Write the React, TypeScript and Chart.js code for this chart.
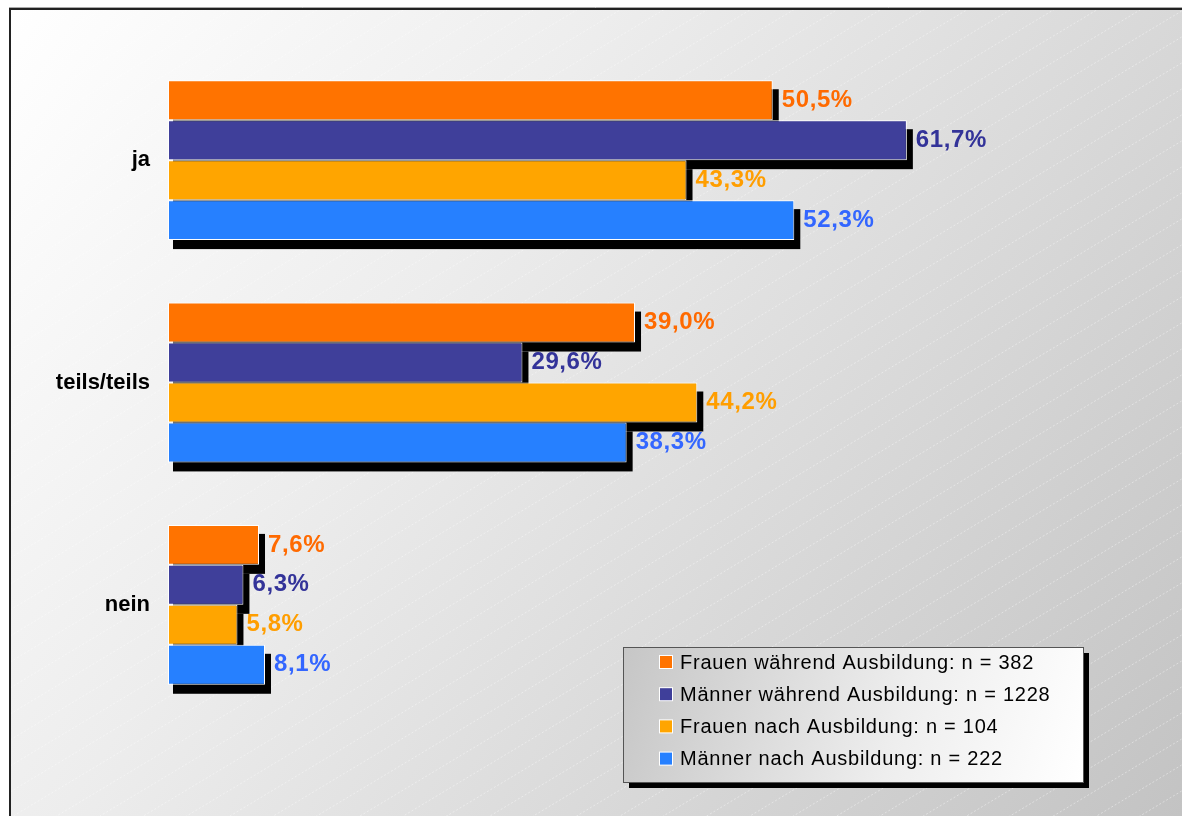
import React, { useEffect, useRef } from "react";
import { Chart, registerables } from "chart.js";

Chart.register(...registerables);

const categories = ["ja", "teils/teils", "nein"];
const seriesLabels = [
  "Frauen während Ausbildung: n = 382",
  "Männer während Ausbildung: n = 1228",
  "Frauen nach Ausbildung: n = 104",
  "Männer nach Ausbildung: n = 222",
];
const frauenWaehrend = [50.5, 39.0, 7.6];
const maennerWaehrend = [61.7, 29.6, 6.3];
const frauenNach = [43.3, 44.2, 5.8];
const maennerNach = [52.3, 38.3, 8.1];

const barColors = ["#FF7300", "#3F3F9A", "#FFA500", "#2680FF"];
const labelColors = ["#FF6A00", "#333399", "#FF9E00", "#3366FF"];

const FONT = '"Liberation Sans", Arial, sans-serif';
const W = 1182;
const H = 816;

const backgroundPlugin = {
  id: "bgPlugin",
  beforeDraw(chart: any) {
    const ctx = chart.ctx as CanvasRenderingContext2D;
    ctx.save();
    ctx.fillStyle = "#ffffff";
    ctx.fillRect(0, 0, W, H);
    const x0 = 10, y0 = 9;
    const g = ctx.createLinearGradient(x0, y0, W, H);
    g.addColorStop(0, "#ffffff");
    g.addColorStop(0.35, "#ededed");
    g.addColorStop(1, "#c3c3c3");
    ctx.fillStyle = g;
    ctx.fillRect(x0, y0, W - x0, H - y0);
    ctx.beginPath();
    ctx.rect(x0 + 1, y0 + 1, W - x0, H - y0);
    ctx.clip();
    ctx.strokeStyle = "rgba(255,255,255,0.4)";
    ctx.lineWidth = 1;
    ctx.setLineDash([2, 2]);
    const slope = 0.6;
    const step = 26;
    for (let c = -200; c < H + slope * W + 200; c += step) {
      ctx.beginPath();
      ctx.moveTo(0, c + 10);
      ctx.lineTo(W, c + 10 - slope * W);
      ctx.stroke();
    }
    ctx.restore();
    ctx.save();
    ctx.strokeStyle = "#aaaaaa";
    ctx.lineWidth = 1;
    ctx.beginPath();
    ctx.moveTo(x0 - 1, y0 - 1.5);
    ctx.lineTo(W, y0 - 1.5);
    ctx.stroke();
    ctx.strokeStyle = "#222222";
    ctx.lineWidth = 2;
    ctx.beginPath();
    ctx.moveTo(x0, H);
    ctx.lineTo(x0, y0);
    ctx.lineTo(W, y0);
    ctx.stroke();
    ctx.restore();
  },
};

const shadowPlugin = {
  id: "shadowPlugin",
  beforeDatasetsDraw(chart: any) {
    const ctx = chart.ctx as CanvasRenderingContext2D;
    ctx.save();
    ctx.fillStyle = "#000000";
    chart.data.datasets.forEach((_: any, di: number) => {
      const meta = chart.getDatasetMeta(di);
      meta.data.forEach((el: any) => {
        const p = el.getProps(["x", "y", "base", "height"], true);
        const left = Math.min(p.base, p.x);
        const w = Math.abs(p.x - p.base);
        ctx.fillRect(left + 5, p.y - p.height / 2 + 9, w + 1, p.height);
      });
    });
    ctx.restore();
  },
};

const valueLabelPlugin = {
  id: "valueLabelPlugin",
  afterDatasetsDraw(chart: any) {
    const ctx = chart.ctx as any;
    ctx.save();
    ctx.font = `bold 24px ${FONT}`;
    ctx.letterSpacing = "0.6px";
    ctx.textBaseline = "middle";
    ctx.textAlign = "left";
    chart.data.datasets.forEach((ds: any, di: number) => {
      const meta = chart.getDatasetMeta(di);
      meta.data.forEach((el: any, i: number) => {
        const p = el.getProps(["x", "y"], true);
        const v = ds.data[i] as number;
        const txt = v.toFixed(1).replace(".", ",") + "%";
        ctx.fillStyle = labelColors[di];
        ctx.fillText(txt, p.x + 9, p.y);
      });
    });
    ctx.restore();
  },
};

const legendPlugin = {
  id: "boxLegend",
  afterDraw(chart: any) {
    const ctx = chart.ctx as any;
    const bx = 623, by = 647, bw = 460, bh = 135;
    ctx.save();
    ctx.fillStyle = "#000000";
    ctx.fillRect(bx + 6, by + 6, bw, bh);
    const g = ctx.createLinearGradient(bx, by, bx + bw, by + bh);
    g.addColorStop(0, "#c6c6c6");
    g.addColorStop(0.6, "#eeeeee");
    g.addColorStop(1, "#ffffff");
    ctx.fillStyle = g;
    ctx.fillRect(bx, by, bw, bh);
    ctx.strokeStyle = "#555555";
    ctx.lineWidth = 1;
    ctx.strokeRect(bx + 0.5, by + 0.5, bw, bh);
    ctx.font = `20px ${FONT}`;
    ctx.letterSpacing = "0.75px";
    ctx.textBaseline = "middle";
    ctx.textAlign = "left";
    chart.data.datasets.forEach((ds: any, di: number) => {
      const cy = 662 + di * 32.2;
      ctx.fillStyle = "#ffffff";
      ctx.fillRect(659, cy - 7, 14, 14);
      ctx.fillStyle = ds.backgroundColor;
      ctx.fillRect(660, cy - 6, 12, 12);
      ctx.fillStyle = "#000000";
      ctx.fillText(ds.label, 680, cy + 1);
    });
    ctx.restore();
  },
};

export default function App() {
  const ref = useRef<HTMLCanvasElement | null>(null);
  useEffect(() => {
    if (!ref.current) return;
    const seriesData = [frauenWaehrend, maennerWaehrend, frauenNach, maennerNach];
    const chart = new Chart(ref.current, {
      type: "bar",
      data: {
        labels: categories,
        datasets: seriesData.map((d, i) => ({
          label: seriesLabels[i],
          data: d,
          backgroundColor: barColors[i],
          borderColor: "#ffffff",
          borderWidth: 1,
          borderSkipped: false,
          categoryPercentage: 0.719,
          barPercentage: 1,
        })),
      },
      options: {
        indexAxis: "y",
        responsive: false,
        animation: false,
        layout: { padding: { top: 49, bottom: 100, right: 56, left: 0 } },
        plugins: {
          legend: { display: false },
          tooltip: { enabled: false },
        },
        scales: {
          x: { display: false, min: 0, max: 80 },
          y: {
            grid: { display: false, drawTicks: false },
            border: { display: false },
            ticks: {
              color: "#000000",
              font: { family: FONT, size: 22, weight: "bold" },
              padding: 18,
            },
            afterFit(axis: any) {
              axis.width = 168;
            },
          },
        },
      } as any,
      plugins: [backgroundPlugin, shadowPlugin, valueLabelPlugin, legendPlugin],
    });
    return () => chart.destroy();
  }, []);
  return (
    <div style={{ position: "absolute", left: 0, top: 0, width: W, height: H }}>
      <canvas ref={ref} width={W} height={H} style={{ display: "block" }} />
    </div>
  );
}
